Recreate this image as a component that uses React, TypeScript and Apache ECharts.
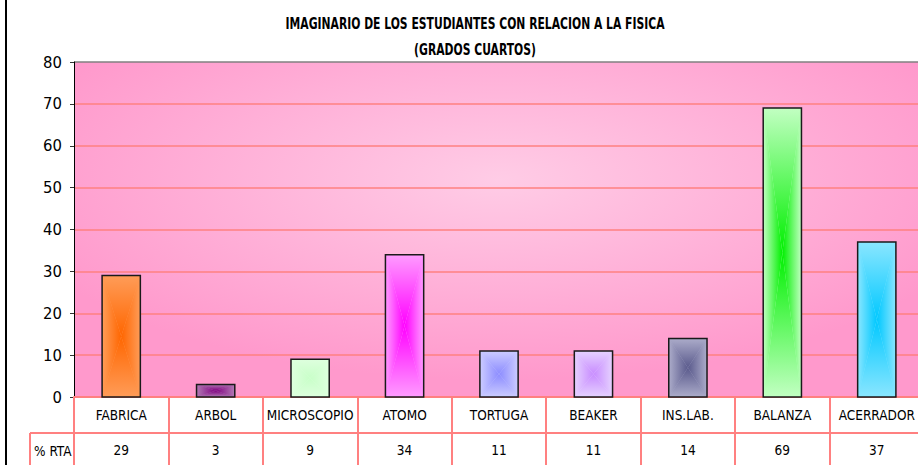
import React, { useEffect, useRef } from "react";
import * as echarts from "echarts";

const titleLines = ["IMAGINARIO DE LOS ESTUDIANTES CON RELACION A LA FISICA", "(GRADOS CUARTOS)"];
const categories = ["FABRICA", "ARBOL", "MICROSCOPIO", "ATOMO", "TORTUGA", "BEAKER", "INS.LAB.", "BALANZA", "ACERRADOR"];
const values = [29, 3, 9, 34, 11, 11, 14, 69, 37];
const seriesName = "% RTA";
const yMin = 0;
const yMax = 80;
const yStep = 10;

const edgeColors = ["#FF9C58", "#B27AB4", "#DEFFDE", "#FF9CFF", "#CCCCFF", "#E6D2FF", "#ACACCA", "#C2FFC2", "#8AE6FF"];
const centerColors = ["#FF6600", "#800080", "#C8FFC8", "#FF00FF", "#8C8CFF", "#C88CFF", "#5A5A8C", "#00F000", "#00C8FF"];

const FONT = "'DejaVu Sans Condensed', 'Liberation Sans', sans-serif";
const SALMON = "#FF8080";

export default function App() {
  const ref = useRef<HTMLDivElement>(null);
  useEffect(() => {
    if (!ref.current) return;
    const chart = echarts.init(ref.current, undefined, { renderer: "svg" });
    const nLines = Math.round((yMax - yMin) / yStep) + 1;
    const splitColors = Array.from({ length: nLines }, (_, i) => (i === nLines - 1 ? "#808080" : SALMON));
    chart.setOption({
      animation: false,
      backgroundColor: "#FFFFFF",
      grid: {
        left: 74,
        top: 62,
        right: -6,
        bottom: 68,
        show: true,
        borderWidth: 0,
        outerBoundsMode: "none",
        backgroundColor: {
          type: "radial",
          x: 0.5,
          y: 0.35,
          r: 0.6,
          colorStops: [
            { offset: 0, color: "#FFCCE6" },
            { offset: 1, color: "#FF99CC" },
          ],
        },
      },
      xAxis: [
        {
          type: "category",
          data: categories,
          position: "bottom",
          axisLine: { lineStyle: { color: SALMON, width: 2 } },
          axisTick: { show: true, length: 72, lineStyle: { color: SALMON, width: 2 } },
          axisLabel: { fontFamily: FONT, fontSize: 13.5, color: "#000", margin: 11, interval: 0 },
          splitLine: { show: false },
        },
        {
          type: "category",
          data: categories,
          position: "bottom",
          offset: 36,
          axisLine: { lineStyle: { color: SALMON, width: 2 } },
          axisTick: { show: false },
          axisLabel: {
            fontFamily: FONT,
            fontSize: 13.5,
            color: "#000",
            margin: 10,
            interval: 0,
            formatter: (_v: string, idx: number) => String(values[idx]),
          },
          splitLine: { show: false },
        },
      ],
      yAxis: {
        type: "value",
        min: yMin,
        max: yMax,
        interval: yStep,
        axisLine: { show: true, lineStyle: { color: "#000", width: 1 } },
        axisTick: { show: true, length: 4, lineStyle: { color: "#333" } },
        axisLabel: { fontFamily: FONT, fontSize: 16.5, color: "#000", margin: 12 },
        splitLine: { show: true, lineStyle: { color: splitColors, width: 1.5 } },
      },
      series: [
        {
          type: "custom",
          name: seriesName,
          xAxisIndex: 0,
          data: values.map((v, i) => [i, v]),
          encode: { x: 0, y: 1 },
          renderItem: (params: any, api: any) => {
            const i = params.dataIndex;
            const v = api.value(1);
            const top = api.coord([i, v]);
            const bot = api.coord([i, 0]);
            const bw = api.size([1, 0])[0] * 0.405;
            const xl = top[0] - bw / 2;
            const xr = top[0] + bw / 2;
            const yt = top[1];
            const yb = bot[1];
            const cx = top[0];
            const cy = (yt + yb) / 2;
            const e = edgeColors[i];
            const c = centerColors[i];
            const lg = (x: number, y: number, x2: number, y2: number) =>
              new echarts.graphic.LinearGradient(x, y, x2, y2, [
                { offset: 0, color: e },
                { offset: 1, color: c },
              ]);
            return {
              type: "group",
              children: [
                { type: "rect", shape: { x: xl, y: yt, width: bw, height: yb - yt }, style: { fill: e } },
                { type: "polygon", shape: { points: [[xl, yt], [xl, yb], [cx, cy]] }, style: { fill: lg(0, 0, 1, 0) } },
                { type: "polygon", shape: { points: [[xr, yt], [xr, yb], [cx, cy]] }, style: { fill: lg(1, 0, 0, 0) } },
                { type: "polygon", shape: { points: [[xl, yt], [xr, yt], [cx, cy]] }, style: { fill: lg(0, 0, 0, 1) } },
                { type: "polygon", shape: { points: [[xl, yb], [xr, yb], [cx, cy]] }, style: { fill: lg(0, 1, 0, 0) } },
                {
                  type: "rect",
                  shape: { x: xl, y: yt, width: bw, height: yb - yt },
                  style: { fill: "none", stroke: "#1A1A1A", lineWidth: 1.5 },
                },
              ],
            };
          },
        },
      ],
      graphic: [
        {
          type: "text",
          x: 475,
          y: 23,
          scaleX: 0.8,
          style: { text: titleLines[0], fontFamily: FONT, fontSize: 15, fontWeight: "bold", fill: "#000", align: "center", verticalAlign: "middle" },
        },
        {
          type: "text",
          x: 475,
          y: 49,
          scaleX: 0.8,
          style: { text: titleLines[1], fontFamily: FONT, fontSize: 15, fontWeight: "bold", fill: "#000", align: "center", verticalAlign: "middle" },
        },
        { type: "line", shape: { x1: 6, y1: 0, x2: 6, y2: 465 }, style: { stroke: "#000", lineWidth: 2 } },
        { type: "line", shape: { x1: 30, y1: 433, x2: 74, y2: 433 }, style: { stroke: SALMON, lineWidth: 2 } },
        { type: "line", shape: { x1: 30, y1: 433, x2: 30, y2: 466 }, style: { stroke: SALMON, lineWidth: 2 } },
        {
          type: "text",
          x: 34,
          y: 451,
          style: { text: seriesName, fontFamily: FONT, fontSize: 13.5, fill: "#000", verticalAlign: "middle", align: "left" },
        },
      ],
    });
    return () => chart.dispose();
  }, []);
  return <div ref={ref} style={{ position: "fixed", left: 0, top: 0, width: 918, height: 465 }} />;
}
